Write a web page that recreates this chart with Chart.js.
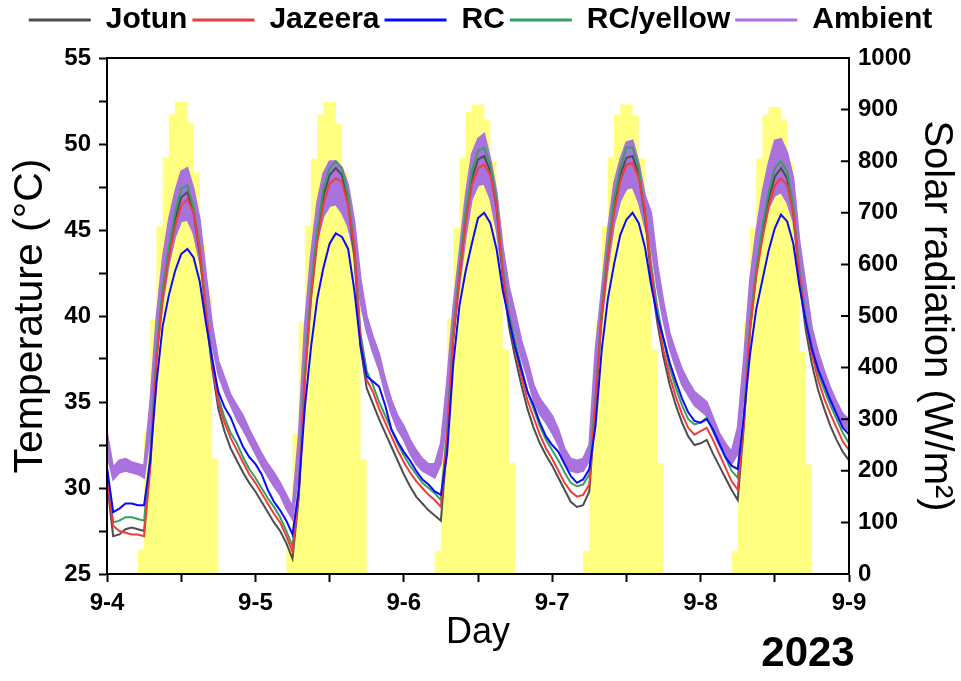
<!DOCTYPE html>
<html>
<head>
<meta charset="utf-8">
<title>Coating temperatures and solar radiation, 9-4 to 9-9</title>
<script src="https://cdn.jsdelivr.net/npm/chart.js@4.4.0/dist/chart.umd.min.js"></script>
<style>
  html, body { margin: 0; padding: 0; background: #fff; }
  #tempChart { display: block; }
</style>
</head>
<body>
<canvas id="tempChart" width="961" height="681"></canvas>
<script>
// labels under the x-axis, one per day (hour 0 of each day)
var dayLabels = ["9-4", "9-5", "9-6", "9-7", "9-8", "9-9"];
var yearLabel = "2023";

// hourly temperatures in deg C, index 0 = 9-4 00:00 ... index 120 = 9-9 00:00
var jotun = [
  30.3, 27.2, 27.3, 27.6, 27.7, 27.6, 27.5, 31.5, 37.6, 41.3, 43.7, 45.6,
  46.9, 47.2, 46.0, 43.6, 40.0, 37.0, 34.6, 33.3, 32.3, 31.6, 30.9, 30.3,
  29.8, 29.2, 28.6, 28.0, 27.5, 26.8, 25.9, 29.4, 36.4, 41.2, 44.6, 47.0,
  48.2, 48.6, 48.2, 46.6, 43.4, 38.2, 35.8, 34.9, 34.0, 33.2, 32.4, 31.6,
  30.8, 30.1, 29.5, 29.1, 28.7, 28.4, 28.1, 32.6, 38.6, 42.3, 45.6, 48.0,
  49.1, 49.3, 48.4, 46.3, 42.3, 39.4, 37.6, 36.0, 34.6, 33.5, 32.6, 31.9,
  31.3, 30.6, 29.9, 29.2, 28.9, 29.0, 29.8, 34.8, 40.0, 43.6, 46.5, 48.2,
  49.2, 49.3, 48.2, 45.8, 42.2, 39.6, 37.6, 36.0, 34.8, 33.8, 33.0, 32.5,
  32.6, 32.8, 32.0, 31.3, 30.6, 29.9, 29.3, 33.6, 39.2, 42.5, 44.9, 46.8,
  48.1, 48.6, 48.0, 46.0, 42.0, 39.2, 37.2, 35.7, 34.6, 33.6, 32.8, 32.1,
  31.6
];
var jazeera = [
  30.6, 27.8, 27.5, 27.4, 27.3, 27.3, 27.2, 31.2, 37.4, 41.0, 43.4, 45.2,
  46.4, 46.8, 46.0, 43.8, 40.3, 37.3, 35.0, 33.8, 32.9, 32.2, 31.5, 30.8,
  30.3, 29.7, 29.1, 28.5, 28.0, 27.2, 26.3, 29.6, 36.2, 41.0, 44.3, 46.5,
  47.7, 48.0, 47.8, 46.4, 44.0, 38.6, 36.3, 35.6, 34.6, 33.8, 33.0, 32.2,
  31.5, 30.9, 30.4, 30.0, 29.6, 29.3, 28.9, 33.0, 38.8, 42.3, 45.4, 47.6,
  48.6, 48.8, 48.2, 46.5, 42.5, 39.8, 38.1, 36.5, 35.1, 34.1, 33.1, 32.3,
  31.7, 31.0, 30.3, 29.8, 29.5, 29.6, 30.2, 35.0, 40.0, 43.4, 46.0, 47.8,
  48.8, 48.9, 48.0, 46.2, 42.6, 40.0, 38.0, 36.5, 35.3, 34.3, 33.5, 33.1,
  33.3, 33.5, 32.8, 32.0, 31.2, 30.4, 29.9, 33.8, 39.2, 42.3, 44.5, 46.3,
  47.6, 48.0, 47.6, 46.0, 42.3, 39.6, 37.8, 36.3, 35.2, 34.3, 33.5, 32.7,
  32.2
];
var rc = [
  31.2, 28.6, 28.8, 29.1, 29.1, 29.0, 29.0, 31.6, 36.1, 39.4, 41.2, 42.6,
  43.6, 43.9, 43.4, 42.0, 39.6, 37.5, 35.6, 34.7, 34.1, 33.2, 32.4, 31.8,
  31.4, 30.8, 29.9, 29.2, 28.7, 28.1, 27.3, 29.8, 34.7, 38.2, 41.0, 42.8,
  44.2, 44.8, 44.6, 43.9, 41.5, 38.3, 36.5, 36.2, 35.9, 34.8, 33.4, 32.7,
  32.1, 31.6, 31.0, 30.5, 30.2, 29.8, 29.6, 32.0, 37.2, 40.6, 42.6, 44.2,
  45.7, 46.0, 45.4, 43.9, 41.5, 39.8, 38.2, 36.9, 35.6, 34.8, 33.8, 33.0,
  32.5, 32.1, 31.4, 30.7, 30.3, 30.5, 31.1, 33.6, 38.0, 41.0, 43.0, 44.7,
  45.6, 46.0, 45.4, 44.0, 41.8, 40.0, 38.7, 37.3, 36.2, 35.2, 34.4, 33.9,
  33.8, 34.0, 33.4, 32.6, 31.8, 31.3, 31.1, 34.2, 37.8, 40.4, 42.1, 43.8,
  45.1, 45.9, 45.5, 44.2, 41.7, 39.7, 38.1, 36.9, 36.0, 35.1, 34.3, 33.5,
  33.1
];
var rcYellow = [
  31.0, 28.0, 28.1, 28.3, 28.3, 28.2, 28.1, 32.0, 37.8, 41.6, 44.0, 46.0,
  47.4, 47.6, 46.3, 44.0, 40.4, 37.6, 35.3, 34.1, 33.2, 32.6, 31.8, 31.1,
  30.6, 30.0, 29.4, 28.9, 28.3, 27.5, 26.6, 30.0, 36.8, 41.6, 45.0, 47.4,
  48.6, 49.0, 48.6, 47.0, 44.0, 39.0, 36.8, 36.0, 35.0, 34.2, 33.4, 32.6,
  31.9, 31.3, 30.8, 30.3, 30.0, 29.7, 29.3, 33.4, 39.2, 42.7, 46.0, 48.4,
  49.6, 49.8, 48.8, 46.8, 42.8, 40.2, 38.6, 37.0, 35.6, 34.6, 33.6, 32.8,
  32.2, 31.6, 30.9, 30.3, 30.1, 30.2, 30.8, 35.4, 40.4, 43.9, 46.8, 48.6,
  49.8, 49.8, 48.6, 46.0, 43.0, 40.5, 38.6, 37.0, 35.8, 34.8, 34.0, 33.7,
  33.8, 34.1, 33.4, 32.6, 31.8, 31.0, 30.6, 34.2, 39.6, 42.8, 45.2, 47.2,
  48.6, 49.0, 48.4, 46.4, 42.6, 40.0, 38.2, 36.7, 35.7, 34.8, 34.0, 33.2,
  32.6
];
// ambient air: upper and lower edge of the hourly spread
var ambientHigh = [
  33.2, 31.2, 31.6, 31.7, 31.5, 31.4, 31.3, 35.0, 39.9, 43.3, 45.6, 47.2,
  48.4, 48.6, 47.4, 45.6, 42.4, 39.5, 37.4, 36.4, 35.4, 34.8, 34.2, 33.4,
  32.7, 32.0, 31.4, 30.9, 30.3, 29.6, 28.9, 33.0, 39.5, 43.6, 46.6, 48.3,
  49.0, 49.0, 48.6, 47.6, 45.5, 42.2, 40.0, 38.8, 37.8, 36.3, 35.1, 34.2,
  33.6, 32.8, 32.2, 31.7, 31.4, 31.4, 32.6, 36.2, 40.5, 43.7, 47.0, 49.4,
  50.3, 50.6, 49.1, 47.2, 44.0, 41.7, 40.2, 38.6, 37.4, 36.0, 35.2, 34.7,
  34.2, 33.4, 32.3, 31.7, 31.6, 31.7, 32.5, 38.0, 41.5, 45.0, 47.7, 49.1,
  50.1, 50.2, 48.9, 47.0, 46.0, 43.0, 40.8, 39.0, 37.9, 36.9, 36.2, 35.6,
  35.3, 35.0, 34.1, 33.2, 32.6, 32.1, 33.5, 37.5, 42.1, 44.9, 47.2, 48.9,
  50.2, 50.3, 49.5, 48.0, 44.3, 41.8, 39.3, 37.9, 36.8, 35.8, 35.0, 34.3,
  34.0
];
var ambientLow = [
  32.0, 30.5, 30.9, 31.0, 30.9, 30.8, 30.6, 33.2, 37.6, 40.8, 43.0, 44.6,
  45.5, 45.6, 44.8, 43.2, 40.9, 38.4, 36.6, 35.6, 34.8, 34.0, 33.4, 32.7,
  32.0, 31.3, 30.7, 30.1, 29.6, 28.8, 28.2, 31.0, 37.2, 41.6, 44.4, 45.8,
  46.4, 46.5, 46.0, 45.2, 43.6, 40.8, 39.1, 37.9, 36.9, 35.5, 34.3, 33.4,
  32.8, 32.0, 31.4, 31.0, 30.8, 30.6, 31.4, 34.2, 38.8, 41.8, 44.6, 46.8,
  47.6, 47.7, 46.8, 45.0, 42.4, 40.4, 39.1, 37.6, 36.4, 35.1, 34.3, 33.8,
  33.2, 32.5, 31.5, 31.0, 30.9, 31.0, 31.6, 36.0, 39.7, 42.8, 45.3, 46.7,
  47.4, 47.5, 46.6, 45.2, 44.0, 41.6, 39.7, 38.1, 37.0, 36.0, 35.4, 34.8,
  34.5, 34.2, 33.3, 32.5, 31.9, 31.4, 32.0, 35.5, 40.0, 42.8, 44.9, 46.3,
  47.0, 47.2, 46.6, 45.5, 42.6, 40.6, 38.3, 37.0, 36.0, 35.1, 34.3, 33.6,
  33.3
];

// solar radiation in W/m2, hourly bins 05:00 ... 17:00 of each day
var sunFirstHour = 5;
var solarDay1 = [48, 276, 493, 674, 807, 891, 915, 915, 875, 778, 640, 540, 224];
var solarDay2 = [48, 272, 490, 675, 805, 890, 915, 915, 872, 780, 645, 530, 222];
var solarDay3 = [45, 275, 495, 672, 806, 895, 910, 910, 880, 800, 660, 435, 215];
var solarDay4 = [45, 272, 490, 674, 807, 890, 910, 910, 888, 805, 650, 435, 215];
var solarDay5 = [45, 270, 488, 672, 805, 890, 905, 905, 880, 800, 650, 430, 212];

var legendOrder = [0, 1, 2, 3, 4];

var hours = [];
for (var h = 0; h < rc.length; h++) hours.push(h);

function pts(arr) {
  return arr.map(function (v, i) { return { x: hours[i], y: v }; });
}

var solarDays = [solarDay1, solarDay2, solarDay3, solarDay4, solarDay5];
var solarPts = [];
hours.forEach(function (hr) {
  var d = Math.floor(hr / 24), k = (hr % 24) - sunFirstHour;
  var v = (d < solarDays.length && k >= 0 && k < solarDays[d].length) ? solarDays[d][k] : 0;
  solarPts.push({ x: hr, y: v });
});

var sansFamily = "'Liberation Sans', Arial, sans-serif";
var tickFont = { family: sansFamily, size: 24, weight: 'bold' };

// legend sits in a fixed 58px strip above the plot
var legendStrip = {
  id: 'legendStrip',
  beforeLayout: function (chart) {
    var lg = chart.legend;
    if (!lg || lg._stripped) return;
    var fit = lg.fit;
    lg.fit = function () { fit.call(this); this.height = 58; };
    lg._stripped = true;
  }
};

// box round the plot, inward ticks on the right axis, year stamp
var frame = {
  id: 'frame',
  afterDraw: function (chart) {
    var ctx = chart.ctx, a = chart.chartArea, y1 = chart.scales.y1;
    ctx.save();
    ctx.strokeStyle = '#000';
    ctx.lineWidth = 2;
    ctx.strokeRect(a.left, a.top, a.right - a.left, a.bottom - a.top);
    ctx.beginPath();
    y1.ticks.forEach(function (t) {
      var py = y1.getPixelForValue(t.value);
      ctx.moveTo(a.right - 8, py);
      ctx.lineTo(a.right, py);
    });
    ctx.stroke();
    ctx.fillStyle = '#000';
    ctx.font = 'bold 42px ' + sansFamily;
    ctx.textAlign = 'center';
    ctx.textBaseline = 'middle';
    ctx.fillText(yearLabel, a.right - 41, chart.height - 27);
    ctx.restore();
  }
};

var chartEl = document.getElementById('tempChart');
var tempChart = new Chart(chartEl, {
  type: 'line',
  data: {
    datasets: [
      { label: 'Jotun', data: pts(jotun), borderColor: '#4d4d4d', order: 3 },
      { label: 'Jazeera', data: pts(jazeera), borderColor: '#f03c3c', order: 1 },
      { label: 'RC', data: pts(rc), borderColor: '#0a0aff', order: 0 },
      { label: 'RC/yellow', data: pts(rcYellow), borderColor: '#35a062', order: 2 },
      { label: 'Ambient', data: pts(ambientHigh), borderColor: '#a972dc', order: 4 },
      { label: 'Ambient low', data: pts(ambientLow), borderColor: '#a972dc',
        backgroundColor: '#a972dc', fill: '-1', order: 5 },
      { label: 'Solar radiation', data: solarPts, yAxisID: 'y1', stepped: true,
        fill: 'origin', backgroundColor: '#ffff80', borderColor: 'rgba(0,0,0,0)',
        borderWidth: 0, order: 6 }
    ]
  },
  options: {
    responsive: false,
    animation: false,
    layout: { padding: 0 },
    elements: {
      line: { borderWidth: 2, tension: 0, fill: false },
      point: { radius: 0 }
    },
    plugins: {
      tooltip: { enabled: false },
      legend: {
        position: 'top',
        labels: {
          boxWidth: 62,
          boxHeight: 3,
          padding: 5,
          color: '#000',
          font: { family: sansFamily, size: 30, weight: 'bold' },
          generateLabels: function (chart) {
            return legendOrder.map(function (i) {
              var ds = chart.data.datasets[i];
              return { text: ds.label, fillStyle: ds.borderColor, strokeStyle: ds.borderColor,
                       lineWidth: 0, datasetIndex: i, hidden: false };
            });
          }
        }
      }
    },
    scales: {
      x: {
        type: 'linear', min: 0, max: 120,
        afterFit: function (s) { s.height = 107; },
        ticks: {
          stepSize: 12, autoSkip: false, maxRotation: 0, padding: 7, color: '#000', font: tickFont,
          callback: function (v) { return v % 24 === 0 ? dayLabels[v / 24] : ''; }
        },
        grid: { drawOnChartArea: false, tickLength: 8, tickColor: '#000', tickWidth: 2 },
        border: { color: '#000', width: 2 },
        title: { display: true, text: 'Day', color: '#000',
                 font: { family: sansFamily, size: 36 }, padding: { top: 0, bottom: 26 } }
      },
      y: {
        position: 'left', min: 25, max: 55,
        afterFit: function (s) { s.width = 107; },
        ticks: {
          stepSize: 2.5, autoSkip: false, padding: 8, color: '#000', font: tickFont,
          callback: function (v) { return v % 5 === 0 ? String(v) : ''; }
        },
        grid: { drawOnChartArea: false, tickLength: 8, tickColor: '#000', tickWidth: 2 },
        border: { color: '#000', width: 2 },
        title: { display: true, text: 'Temperature (°C)', color: '#000',
                 font: { family: sansFamily, size: 41 }, padding: { top: 6, bottom: 0 } }
      },
      y1: {
        position: 'right', min: 0, max: 1000,
        afterFit: function (s) { s.width = 112; },
        ticks: {
          stepSize: 100, autoSkip: false, padding: 9, color: '#000', font: tickFont,
          callback: function (v) { return String(v); }
        },
        grid: { drawOnChartArea: false, drawTicks: false },
        border: { color: '#000', width: 2 },
        title: { display: true, text: 'Solar radiation (W/m²)', color: '#000',
                 font: { family: sansFamily, size: 40 }, padding: { top: 1, bottom: 0 } }
      }
    }
  },
  plugins: [legendStrip, frame]
});
</script>
</body>
</html>
